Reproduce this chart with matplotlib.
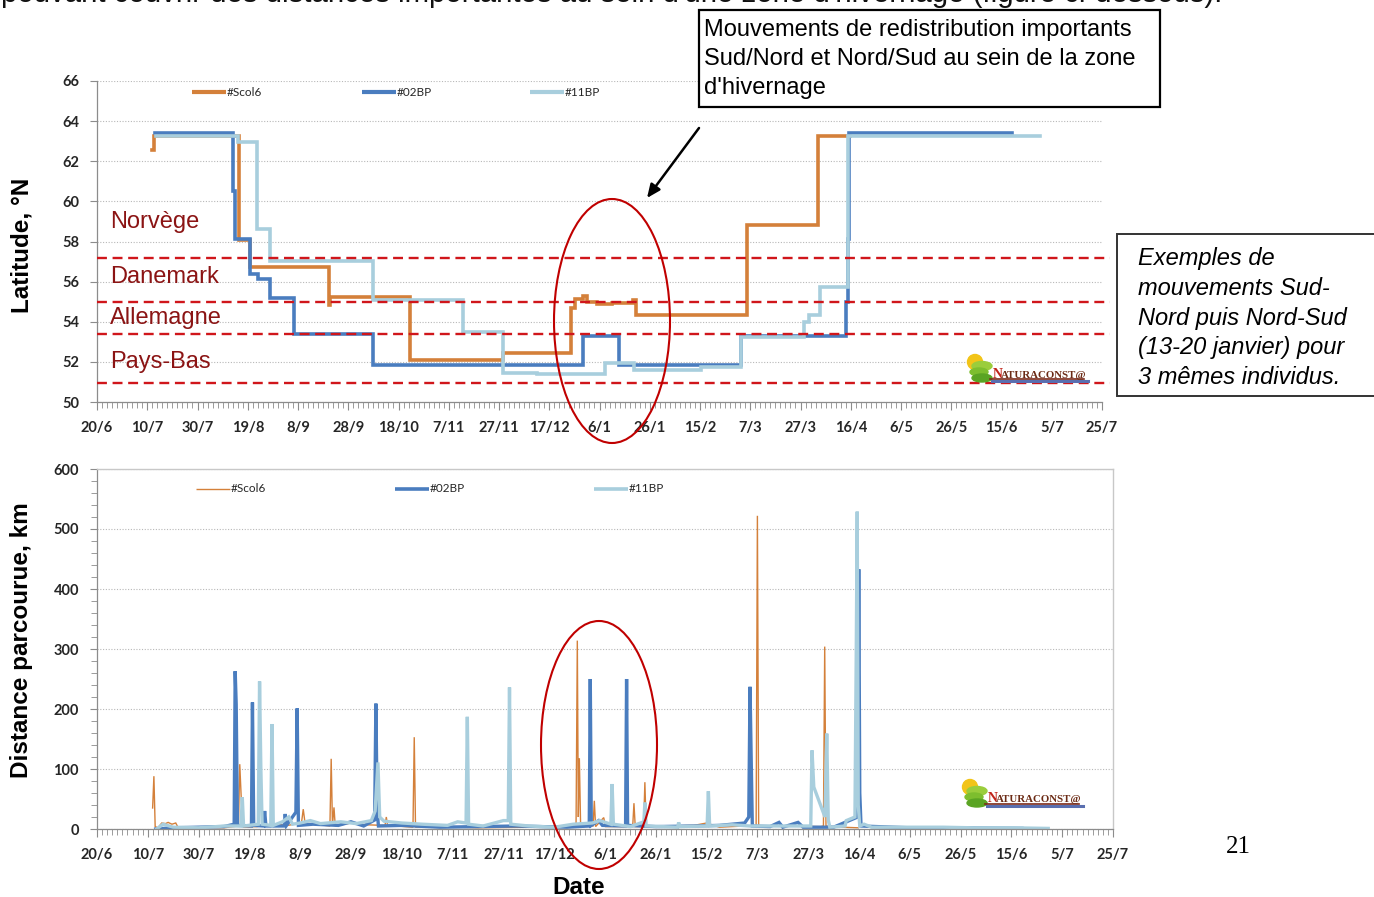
import matplotlib
matplotlib.use('Agg')
import matplotlib.pyplot as plt
from matplotlib.patches import Ellipse, Rectangle, Circle
from matplotlib.ticker import MultipleLocator, FixedLocator, FixedFormatter

# ---- time axis: days counted from 20 June ----
tick_days = list(range(0, 401, 20))
tick_labels = ['20/6', '10/7', '30/7', '19/8', '8/9', '28/9', '18/10', '7/11',
               '27/11', '17/12', '6/1', '26/1', '15/2', '7/3', '27/3', '16/4',
               '6/5', '26/5', '15/6', '5/7', '25/7']

birds = ['#Scol6', '#02BP', '#11BP']
colors = ['#D4803A', '#4A7DBF', '#A8CEDD']

# ---- latitude (°N), step changes ----
scol6_lat_days = [21.9, 22.5, 56.5, 61.0, 92.2, 92.7, 124.6, 161.7, 188.7, 190.2,
                  193.5, 195.0, 199.0, 205.0, 213.3, 214.5, 258.8, 287.0, 299.7]
scol6_lat = [62.55, 63.25, 58.05, 56.75, 54.85, 55.25, 52.1, 52.42, 54.7, 55.15,
             55.3, 55.0, 54.9, 54.95, 55.1, 54.35, 58.8, 63.25, 63.25]

bp02_lat_days = [23.1, 54.3, 54.8, 60.9, 63.9, 68.9, 78.5, 109.8, 193.4, 207.8,
                 256.4, 298.3, 298.8, 299.5, 364.2]
bp02_lat = [63.42, 60.5, 58.1, 56.4, 56.15, 55.2, 53.38, 51.85, 53.3, 51.85,
            53.3, 55.0, 58.1, 63.42, 63.42]

bp11_lat_days = [23.5, 56.0, 63.6, 68.9, 110.0, 145.7, 161.6, 175.0, 202.2, 213.7,
                 240.4, 256.3, 281.4, 283.5, 287.8, 298.9, 375.3]
bp11_lat = [63.28, 62.97, 58.6, 57.05, 55.1, 53.5, 51.45, 51.4, 51.95, 51.6,
            51.75, 53.25, 54.0, 54.35, 55.75, 63.28, 63.28]

# zone boundaries (°N) and country names
zone_bounds = [57.2, 55.0, 53.4, 50.95]
zone_names = ['Norvège', 'Danemark', 'Allemagne', 'Pays-Bas']
zone_name_lat = [58.97, 56.23, 54.19, 51.99]

# ---- daily distance travelled (km) ----
scol6_km_days = [21.9, 22.4, 22.9, 24, 25.5, 27, 28, 29.5, 31, 32, 40, 50, 55.7, 56.2,
                 56.7, 57.3, 63, 66, 70, 75, 80.5, 81.2, 81.9, 86, 91.7, 92.2, 92.7,
                 93.3, 93.8, 100, 106, 113.4, 113.9, 114.4, 124.4, 124.9, 125.4, 135,
                 150, 170, 185, 188.6, 189.1, 189.5, 189.9, 190.4, 195.3, 195.8, 196.3,
                 199.5, 200.2, 210.9, 211.4, 211.9, 215.2, 215.7, 216.2, 225, 235, 240,
                 245, 255, 259.5, 260.0, 260.5, 270, 285, 286.0, 286.5, 287.0, 293, 299.7]
scol6_km = [35, 88, 4, 2, 10, 9, 11, 8, 10, 2, 3, 2, 5, 108,
            60, 3, 4, 6, 8, 6, 10, 33, 10, 8, 5, 117, 6,
            36, 5, 10, 7, 6, 20, 6, 3, 153, 3, 4,
            2, 3, 3, 5, 314, 20, 118, 5, 5, 47, 4,
            19, 4, 4, 43, 4, 4, 78, 4, 5, 6, 10,
            3, 5, 5, 522, 5, 5, 4, 5, 304, 5, 3, 2]

bp02_km_days = [23.1, 30, 40, 50, 54.0, 54.4, 54.8, 55.3, 60.8, 61.2, 61.7, 65.6, 66.0,
                66.5, 73.7, 74.1, 74.6, 78.3, 78.8, 79.3, 85, 95, 100, 105, 109.3, 109.8,
                110.3, 110.8, 120, 135, 150, 165, 175, 185, 193.8, 194.2, 194.6, 197.5,
                199, 208.1, 208.5, 208.9, 220, 235, 245, 255, 256.6, 257.1, 257.5, 258.0,
                265, 268.5, 270, 276, 278, 290, 299.5, 299.9, 300.3, 300.8, 320, 340, 364.2]
bp02_km = [0, 2, 3, 4, 8, 263, 208, 6, 5, 211, 6, 5, 30,
           5, 5, 25, 6, 28, 201, 6, 8, 6, 12, 5, 15, 209,
           30, 5, 6, 3, 4, 5, 4, 3, 5, 250, 6, 14,
           6, 5, 250, 6, 4, 5, 6, 10, 20, 237, 130, 5,
           4, 11, 3, 11, 3, 3, 20, 433, 60, 5, 2, 2, 1]

bp11_km_days = [23.5, 26, 30, 40, 47, 50, 56.7, 57.2, 57.7, 63.5, 64.0, 64.5, 65.0, 68.4,
                68.9, 69.4, 73, 75.5, 77, 80, 84, 88, 96, 102, 108, 109.5, 110.6, 111.3,
                113, 120, 128, 138, 142, 145.3, 145.8, 146.3, 152, 160, 161.9, 162.4,
                162.9, 170, 180, 187.5, 195, 198, 202.3, 202.8, 203.3, 210, 215.3, 215.7,
                216.2, 228.6, 229.0, 229.5, 240.2, 240.7, 241.2, 250, 257, 270, 281.0,
                281.5, 282.2, 286.6, 287.3, 287.9, 288.5, 294.5, 295.0, 298.4, 298.9,
                299.3, 299.7, 300.3, 302, 305, 313, 333, 345, 360, 374.5]
bp11_km = [0, 8, 3, 2, 4, 5, 5, 53, 5, 8, 246, 103, 8, 6,
           175, 6, 12, 20, 8, 10, 14, 9, 12, 9, 14, 30, 111, 20,
           13, 10, 8, 6, 12, 10, 187, 8, 5, 14, 14, 236,
           8, 5, 3, 8, 10, 14, 8, 75, 8, 4, 12, 44,
           5, 3, 11, 4, 5, 63, 5, 7, 5, 5, 5,
           131, 70, 20, 159, 15, 3, 5, 14, 20, 286,
           529, 40, 5, 8, 3, 3, 3, 2, 2, 1]

lat_series = [(scol6_lat_days, scol6_lat), (bp02_lat_days, bp02_lat), (bp11_lat_days, bp11_lat)]
km_series = [(scol6_km_days, scol6_km), (bp02_km_days, bp02_km), (bp11_km_days, bp11_km)]

W, H = 1374, 897
fig = plt.figure(figsize=(W / 100, H / 100), dpi=100)
fig.patch.set_facecolor('white')

tick_font = dict(family='Lato', weight='bold', size=10.5)
grid_kw = dict(color='#B8B8B8', linestyle=(0, (1, 1.5)), linewidth=0.8)
spine_col = '#8C8C8C'


def style_time_axis(ax):
    ax.set_xlim(0, 400)
    ax.xaxis.set_major_locator(FixedLocator(tick_days))
    ax.xaxis.set_major_formatter(FixedFormatter(tick_labels))
    ax.xaxis.set_minor_locator(MultipleLocator(2))
    ax.tick_params(axis='x', which='major', length=6, width=0.8, color=spine_col,
                   direction='out', pad=8)
    ax.tick_params(axis='x', which='minor', length=4, width=0.6, color=spine_col,
                   direction='out')
    ax.tick_params(axis='y', which='major', length=5, width=0.8, color=spine_col,
                   direction='out', pad=8)
    for lab in ax.get_xticklabels() + ax.get_yticklabels():
        lab.set_fontfamily(tick_font['family'])
        lab.set_fontweight(tick_font['weight'])
        lab.set_fontsize(tick_font['size'])
        lab.set_color('#262626')
    for s in ('left', 'bottom'):
        ax.spines[s].set_color(spine_col)
        ax.spines[s].set_linewidth(0.9)


# ---------------- latitude panel ----------------
ax1 = fig.add_axes([97 / W, 1 - 402 / H, 1005 / W, 321 / H])
ax1.set_ylim(50, 66)
ax1.yaxis.set_major_locator(MultipleLocator(2))
ax1.grid(axis='y', **grid_kw)
ax1.set_axisbelow(True)
ax1.spines['top'].set_visible(False)
ax1.spines['right'].set_visible(False)
style_time_axis(ax1)

for (d, v), c in zip(lat_series, colors):
    ax1.plot(d, v, drawstyle='steps-post', color=c, lw=2.6, solid_joinstyle='miter')

for b in zone_bounds:
    ax1.axhline(b, xmin=0, xmax=1.008, color='#D0161B', lw=1.7, dashes=(4.2, 2.4),
                clip_on=False, zorder=4)
for name, y in zip(zone_names, zone_name_lat):
    ax1.text(5.2, y, name, fontsize=17, color='#8B1414', family='Liberation Sans',
             va='center', ha='left')

# ---------------- distance panel ----------------
ax2 = fig.add_axes([97 / W, 1 - 829 / H, 1016 / W, 360 / H])
ax2.set_ylim(0, 600)
ax2.yaxis.set_major_locator(MultipleLocator(100))
ax2.yaxis.set_minor_locator(MultipleLocator(20))
ax2.grid(axis='y', **grid_kw)
ax2.set_axisbelow(True)
style_time_axis(ax2)
ax2.tick_params(axis='y', which='minor', length=4, width=0.6, color=spine_col, direction='out')
for s in ('top', 'right'):
    ax2.spines[s].set_color('#C8C8C8')
    ax2.spines[s].set_linewidth(1.0)

km_widths = [1.0, 2.4, 2.4]
for (d, v), c, lw in zip(km_series, colors, km_widths):
    ax2.plot(d, v, color=c, lw=lw, solid_joinstyle='miter')

# ---------------- overlay in pixel coordinates ----------------
ov = fig.add_axes([0, 0, 1, 1])
ov.set_xlim(0, W)
ov.set_ylim(H, 0)
ov.axis('off')
ov.patch.set_alpha(0)
ov.set_zorder(10)

# legends
def legend_row(x_starts, y, widths, font_size=8.5):
    for x0, name, c, lw in zip(x_starts, birds, colors, widths):
        ov.plot([x0, x0 + 34], [y, y], color=c, lw=lw, solid_capstyle='butt')
        ov.text(x0 + 35, y, name, fontsize=font_size, family='Lato', va='center',
                ha='left', color='#262626')

legend_row([192, 362, 530], 92, [3.0, 3.0, 3.0])
legend_row([196, 395, 594], 489, [1.0, 2.6, 2.6])

# axis titles
ov.text(22, 245, 'Latitude, °N', rotation=90, ha='center', va='center',
        fontsize=17.5, weight='bold', family='Liberation Sans', color='black')
ov.text(22, 640, 'Distance parcourue, km', rotation=90, ha='center', va='center',
        fontsize=17.5, weight='bold', family='Liberation Sans', color='black')
ov.text(579, 887, 'Date', ha='center', va='center', fontsize=17.5, weight='bold',
        family='Liberation Sans', color='black')

# running text of the page (only its lower edge falls inside the page crop)
ov.text(1222, 2.0, "pouvant couvrir des distances importantes au sein d'une zone "
        "d'hivernage (figure ci-dessous).", ha='right', va='baseline', fontsize=21.2,
        family='Liberation Sans', color='#111111')

# callout box
ov.add_patch(Rectangle((699, 10), 461, 97, fill=True, fc='white', ec='black', lw=1.6))
for i, line in enumerate(['Mouvements de redistribution importants',
                          'Sud/Nord et Nord/Sud au sein de la zone',
                          "d'hivernage"]):
    ov.text(704, 30 + 29 * i, line, fontsize=17, family='Liberation Sans',
            ha='left', va='center', color='black')
ov.annotate('', xy=(647, 198), xytext=(699, 128),
            arrowprops=dict(arrowstyle='-|>,head_length=0.8,head_width=0.35',
                            color='black', lw=1.8, shrinkA=0, shrinkB=0))

# side note
ov.add_patch(Rectangle((1117, 234), 300, 162, fill=True, fc='white', ec='#333333',
                       lw=1.4, clip_on=False))
for i, line in enumerate(['Exemples de', 'mouvements Sud-', 'Nord puis Nord-Sud',
                          '(13-20 janvier) pour', '3 mêmes individus.']):
    ov.text(1138, 259 + 29.5 * i, line, fontsize=17, family='Liberation Sans',
            style='italic', ha='left', va='center', color='black')

# highlighted mid-January period
ov.add_patch(Ellipse((612, 321), 116, 244, fill=False, ec='#C00000', lw=1.5))
ov.add_patch(Ellipse((599, 745), 116, 248, fill=False, ec='#C00000', lw=1.5))

# page number
ov.text(1238, 847, '21', fontsize=18, family='Liberation Serif', ha='center',
        va='center', color='black')


def logo(x, y):
    ov.add_patch(Circle((x + 9, y + 8), 7.5, color='#F2C418', zorder=1))
    ov.add_patch(Ellipse((x + 16, y + 12), 20, 9, color='#9ACD3C', zorder=2))
    ov.add_patch(Ellipse((x + 13, y + 18), 18, 8, color='#7DBE2E', zorder=2))
    ov.add_patch(Ellipse((x + 16, y + 24), 20, 8, color='#5AA423', zorder=2))
    ov.plot([x + 26, x + 122], [y + 27.5, y + 27.5], color='#5A6FB0', lw=2.2, zorder=2)
    ov.plot([x + 24, x + 118], [y + 25.5, y + 25.5], color='#7A2A1A', lw=1.2, zorder=3)
    ov.text(x + 27, y + 23.5, 'N', fontsize=10, family='Liberation Serif', weight='bold',
            color='#C0241A', ha='left', va='baseline', zorder=4)
    ov.text(x + 35, y + 23.5, 'ATURACONST@', fontsize=7.8, family='Liberation Serif',
            weight='bold', color='#6B2A14', ha='left', va='baseline', zorder=4)


logo(966, 354)
logo(961, 779)

fig.savefig('out.png', dpi=100, facecolor='white')
